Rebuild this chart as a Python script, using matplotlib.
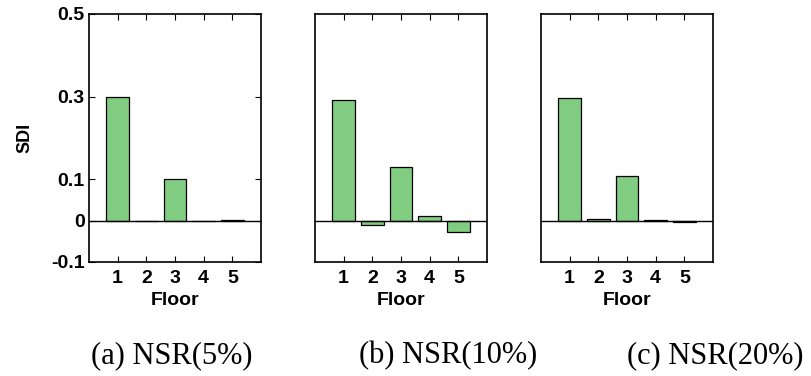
import matplotlib
matplotlib.use("Agg")
import matplotlib.pyplot as plt

floors = [1, 2, 3, 4, 5]
sdi_5 = [0.300, 0.000, 0.100, -0.002, 0.0005]
sdi_10 = [0.293, -0.010, 0.131, 0.011, -0.027]
sdi_20 = [0.297, 0.004, 0.107, 0.0005, -0.004]
captions = ["(a) NSR(5%)", "(b) NSR(10%)", "(c) NSR(20%)"]
yticks = [-0.1, 0, 0.1, 0.3, 0.5]
yticklabels = ["-0.1", "0", "0.1", "0.3", "0.5"]

W, H = 811, 376
fig = plt.figure(figsize=(W / 100, H / 100), dpi=100)

bar_color = (0.5, 0.8, 0.5)
sans = "Liberation Sans"
serif = "Liberation Serif"

lefts = [89, 315, 541]
ax_w, top, bottom = 172, 14, 262
caption_x = [172, 448, 715]

for i, (vals, cap) in enumerate(zip([sdi_5, sdi_10, sdi_20], captions)):
    ax = fig.add_axes([lefts[i] / W, 1 - bottom / H, ax_w / W, (bottom - top) / H])
    ax.bar(floors, vals, width=0.8, color=bar_color, edgecolor="black", linewidth=0.9, zorder=2)
    ax.axhline(0, color="black", linewidth=1.0, zorder=3)
    ax.set_xlim(0, 6)
    ax.set_ylim(-0.1, 0.5)
    ax.set_xticks(floors)
    ax.set_xticklabels([str(f) for f in floors], fontfamily=sans, fontweight="bold", fontsize=14)
    ax.tick_params(axis="x", direction="in", top=True, bottom=True, length=4, width=0.8, pad=6)
    if i == 0:
        ax.set_yticks(yticks)
        ax.set_yticklabels(yticklabels, fontfamily=sans, fontweight="bold", fontsize=14)
        ax.tick_params(axis="y", direction="in", left=True, right=True, length=4, width=0.8, pad=3)
        ax.set_ylabel("SDI", fontfamily=sans, fontweight="bold", fontsize=13, labelpad=13)
    else:
        ax.set_yticks([])
    ax.set_xlabel("Floor", fontfamily=sans, fontweight="bold", fontsize=14, labelpad=3.5)
    for sp in ax.spines.values():
        sp.set_linewidth(1.2)
    fig.text(caption_x[i] / W, 1 - 356 / H, cap, ha="center", va="center",
             fontfamily=serif, fontsize=22)

fig.savefig("out.png", dpi=100)
